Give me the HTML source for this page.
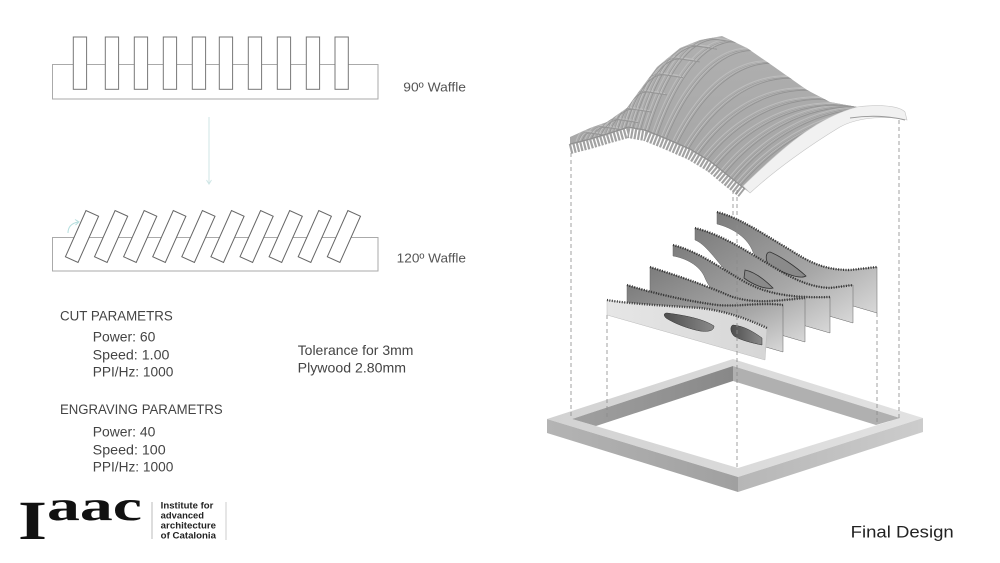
<!DOCTYPE html>
<html><head><meta charset="utf-8"><style>
html,body{margin:0;padding:0;background:#fff;}
svg{display:block;}
text{font-family:"Liberation Sans",sans-serif;}
</style></head><body>
<svg width="1000" height="563" viewBox="0 0 1000 563" xmlns="http://www.w3.org/2000/svg">
<defs>
<linearGradient id="surf" x1="0" y1="0" x2="0" y2="1"><stop offset="0" stop-color="#b0b0b0"/><stop offset="1" stop-color="#a4a4a4"/></linearGradient>
<linearGradient id="pg" x1="0" y1="0" x2="1" y2="1"><stop offset="0" stop-color="#7c7c7c"/><stop offset="0.6" stop-color="#a8a8a8"/><stop offset="1" stop-color="#d8d8d8"/></linearGradient>
<linearGradient id="front" x1="0" y1="0" x2="1" y2="0"><stop offset="0" stop-color="#e6e6e6"/><stop offset="1" stop-color="#d6d6d6"/></linearGradient>
<linearGradient id="hole" x1="0" y1="0" x2="1" y2="0"><stop offset="0" stop-color="#4e4e4e"/><stop offset="1" stop-color="#8a8a8a"/></linearGradient>
<linearGradient id="ftop" x1="0" y1="0" x2="1" y2="0"><stop offset="0" stop-color="#d2d2d2"/><stop offset="1" stop-color="#e2e2e2"/></linearGradient>
<linearGradient id="fl" x1="0" y1="0" x2="1" y2="0"><stop offset="0" stop-color="#b4b4b4"/><stop offset="1" stop-color="#a0a0a0"/></linearGradient>
<linearGradient id="fr" x1="0" y1="0" x2="1" y2="0"><stop offset="0" stop-color="#b6b6b6"/><stop offset="1" stop-color="#cccccc"/></linearGradient>
<linearGradient id="iw" x1="0" y1="0" x2="1" y2="0"><stop offset="0" stop-color="#a0a0a0"/><stop offset="1" stop-color="#888888"/></linearGradient>
<clipPath id="sc"><path d="M570,137 L590,128 L607,122 L627,108 L640,90 L657,67 L680,48 L700,40 L722,36 L747,48 L773,66 L807,90 L830,102 L857,107 L883,110 L905,114 L907,120 C890,116 860,116 840,127 C810,145 775,170 750,193 L730,178 L710,162 L690,150 L665,139 L645,131 L628,128 L610,134 L590,140 L570,145 Z"/></clipPath>
<g id="stripes">
<path d="M579,142.75 C581.1,136.15 584,131.75 587.25,131.75 l20,3"/>
<path d="M588,140.5 C591.6,131.8 596.7,126 602.5,126 l20,3"/>
<path d="M597,137.9 C601.9,126.3 608.7,118.5 616.5,118.5 l20,3"/>
<path d="M606,135.2 C612,118.9 620.4,108 630,108 l20,3"/>
<path d="M614.5,132.5 C622.1,107.5 632.8,90.75 645,90.75 l20,3"/>
<path d="M622.6,129.8 C632.2,96 645.6,73.5 661,73.5 l20,3"/>
<path d="M630.5,128.45 C642.3,86 658.9,57.75 677.75,57.75 l20,3"/>
<path d="M638.2,129.8 C652.4,78.9 672.3,45 695,45 l20,3"/>
<path d="M646,131.4 C662.9,75.5 686.7,38.25 713.75,38.25 l20,3"/>
<path d="M655,135 C674.4,78.3 701.5,40.5 732.5,40.5 l20,6"/>
<path d="M664,138.6 C685.8,85 716.4,49.25 751.25,49.25 l20,8"/>
<path d="M675,143.4 C698.8,94.6 732,62 770,62 l20,8"/>
<path d="M686.25,148.35 C711.9,105.5 747.8,77 788.75,77 l20,8"/>
<path d="M696,153.6 C723.3,114.8 761.4,89 805,89 l20,5"/>
<path d="M705,159 C733.8,122.4 774,98 820,98 l20,4"/>
<path d="M714,165.2 C744.3,128.5 786.6,104 835,104 l20,2"/>
<path d="M723,172.4 C755.7,132.3 801.5,105.5 853.75,105.5 l20,2"/>
<path d="M731.5,179.2 C766.8,135.9 816.1,107 872.5,107 l20,2"/>
<path d="M738.25,184.6 C776.5,139.2 830,109 891.25,109 l20,2"/>
</g>
</defs>

<!-- top-left waffle -->
<rect x="52.5" y="64.5" width="325.5" height="34.5" fill="none" stroke="#aaa" stroke-width="1"/>
<g fill="#fff" stroke="#777" stroke-width="1">
<rect x="73.3" y="37" width="13.3" height="52.3"/>
<rect x="105.3" y="37" width="13.3" height="52.3"/>
<rect x="134.3" y="37" width="13.3" height="52.3"/>
<rect x="163.3" y="37" width="13.3" height="52.3"/>
<rect x="192.3" y="37" width="13.3" height="52.3"/>
<rect x="219.3" y="37" width="13.3" height="52.3"/>
<rect x="248.3" y="37" width="13.3" height="52.3"/>
<rect x="277.3" y="37" width="13.3" height="52.3"/>
<rect x="306.3" y="37" width="13.3" height="52.3"/>
<rect x="335" y="37" width="13.3" height="52.3"/>
</g>
<text x="403.3" y="91.7" font-size="12.5" fill="#555" textLength="62.7" lengthAdjust="spacingAndGlyphs">90º Waffle</text>

<!-- arrow -->
<line x1="209" y1="117" x2="209" y2="183" stroke="#cfe6e6" stroke-width="1"/>
<path d="M206.5,180 L209,184 L211.5,180" fill="none" stroke="#cfe6e6" stroke-width="1"/>

<!-- 120 waffle -->
<rect x="52.5" y="237.5" width="325.5" height="33.5" fill="none" stroke="#aaa" stroke-width="1"/>
<g fill="#fff" stroke="#666" stroke-width="1">
<rect x="-6.9" y="-25.3" width="13.8" height="50.6" transform="translate(82,236.5) rotate(24)"/>
<rect x="-6.9" y="-25.3" width="13.8" height="50.6" transform="translate(111.1,236.5) rotate(24)"/>
<rect x="-6.9" y="-25.3" width="13.8" height="50.6" transform="translate(140.2,236.5) rotate(24)"/>
<rect x="-6.9" y="-25.3" width="13.8" height="50.6" transform="translate(169.3,236.5) rotate(24)"/>
<rect x="-6.9" y="-25.3" width="13.8" height="50.6" transform="translate(198.4,236.5) rotate(24)"/>
<rect x="-6.9" y="-25.3" width="13.8" height="50.6" transform="translate(227.5,236.5) rotate(24)"/>
<rect x="-6.9" y="-25.3" width="13.8" height="50.6" transform="translate(256.6,236.5) rotate(24)"/>
<rect x="-6.9" y="-25.3" width="13.8" height="50.6" transform="translate(285.7,236.5) rotate(24)"/>
<rect x="-6.9" y="-25.3" width="13.8" height="50.6" transform="translate(314.8,236.5) rotate(24)"/>
<rect x="-6.9" y="-25.3" width="13.8" height="50.6" transform="translate(343.9,236.5) rotate(24)"/>
</g>
<path d="M68,233 Q68,224 78,222" fill="none" stroke="#b5dede" stroke-width="1"/>
<path d="M75,219.5 L79,222 L75.5,225" fill="none" stroke="#b5dede" stroke-width="1"/>
<text x="396.7" y="262.7" font-size="12.5" fill="#555" textLength="69.3" lengthAdjust="spacingAndGlyphs">120º Waffle</text>

<!-- parameters -->
<g fill="#444">
<text x="60" y="320.7" font-size="13.5" textLength="112.7" lengthAdjust="spacingAndGlyphs">CUT PARAMETRS</text>
<text x="92.7" y="341.7" font-size="14" textLength="62.7" lengthAdjust="spacingAndGlyphs">Power: 60</text>
<text x="92.7" y="359.3" font-size="14" textLength="76.7" lengthAdjust="spacingAndGlyphs">Speed: 1.00</text>
<text x="92.7" y="376.7" font-size="14" textLength="80.7" lengthAdjust="spacingAndGlyphs">PPI/Hz: 1000</text>
<text x="60" y="414" font-size="13.5" textLength="162.7" lengthAdjust="spacingAndGlyphs">ENGRAVING PARAMETRS</text>
<text x="92.7" y="436.7" font-size="14" textLength="62.7" lengthAdjust="spacingAndGlyphs">Power: 40</text>
<text x="92.7" y="454.3" font-size="14" textLength="73" lengthAdjust="spacingAndGlyphs">Speed: 100</text>
<text x="92.7" y="471.7" font-size="14" textLength="80.7" lengthAdjust="spacingAndGlyphs">PPI/Hz: 1000</text>
<text x="297.7" y="355" font-size="14" textLength="115.7" lengthAdjust="spacingAndGlyphs">Tolerance for 3mm</text>
<text x="297.7" y="372.7" font-size="14" textLength="108.3" lengthAdjust="spacingAndGlyphs">Plywood 2.80mm</text>
</g>

<!-- logo -->
<text x="18" y="539" font-weight="bold" font-size="55" fill="#111" textLength="29" lengthAdjust="spacingAndGlyphs" style="font-family:'Liberation Serif',serif">I</text>
<text x="47" y="520" font-weight="bold" font-size="42" fill="#111" textLength="95" lengthAdjust="spacingAndGlyphs" style="font-family:'Liberation Serif',serif">aac</text>
<line x1="152" y1="502" x2="152" y2="539" stroke="#bbb" stroke-width="1"/>
<line x1="226" y1="502" x2="226" y2="540" stroke="#ccc" stroke-width="1"/>
<g fill="#222" font-weight="bold" font-size="9.3">
<text x="160.7" y="508.5" textLength="52.7" lengthAdjust="spacingAndGlyphs">Institute for</text>
<text x="160.7" y="518.5" textLength="43.3" lengthAdjust="spacingAndGlyphs">advanced</text>
<text x="160.7" y="528.5" textLength="55.3" lengthAdjust="spacingAndGlyphs">architecture</text>
<text x="160.7" y="538.5" textLength="55.3" lengthAdjust="spacingAndGlyphs">of Catalonia</text>
</g>

<text x="850.7" y="537.3" font-size="17" fill="#222" textLength="103" lengthAdjust="spacingAndGlyphs">Final Design</text>

<!-- frame -->
<path d="M547,419 L733,359 L923,418 L738,477 Z M572,419 L738,468 L900,418 L733,366 Z" fill="url(#ftop)" fill-rule="evenodd"/>
<path d="M572,419 L733,366 L733,381 L596,426 Z" fill="url(#iw)"/>
<path d="M733,366 L900,418 L876,425 L733,381 Z" fill="#b0b0b0"/>
<path d="M547,419 L738,477 L738,492 L547,433 Z" fill="url(#fl)"/>
<path d="M738,477 L923,418 L923,432 L738,492 Z" fill="url(#fr)"/>

<!-- dashed guides (behind) -->
<g stroke="#8a8a8a" stroke-width="0.8" stroke-dasharray="4 3" fill="none">
<line x1="571" y1="146" x2="571" y2="418"/>
<line x1="607" y1="315" x2="607" y2="419"/>
<line x1="733" y1="190" x2="733" y2="232"/>
<line x1="899" y1="120" x2="899" y2="418"/>
<line x1="877" y1="313" x2="877" y2="424"/>
</g>

<!-- panels back to front -->
<g stroke="#666" stroke-width="0.5">
<path d="M717,212 C740,218 760,232 787,248 C805,259 820,270 850,270 L877,267 L877,313 L805,292 C780,286 760,270 753,252 C748,238 733,228 717,224 Z" fill="url(#pg)"/>
<path d="M770,252 C780,256 795,266 806,276 C800,280 780,272 768,264 C765,258 766,252 770,252 Z" fill="#8a8a8a" stroke="#333" stroke-width="0.8"/>
<path d="M695,228 C720,234 745,250 765,262 C785,274 805,287 830,288 L853,285 L853,323 L760,296 C740,290 725,270 715,258 C705,246 700,242 695,240 Z" fill="url(#pg)"/>
<path d="M745,270 C755,272 765,280 773,288 C765,290 752,284 744,278 Z" fill="#8a8a8a" stroke="#333" stroke-width="0.8"/>
<path d="M673,245 C700,252 720,268 745,282 C770,296 800,298 830,297 L830,333 L740,307 C720,300 710,290 705,278 C700,265 685,258 673,256 Z" fill="url(#pg)"/>
<path d="M650,267 C675,275 700,283 730,296 C755,305 780,300 805,298 L805,342 L650,297 Z" fill="url(#pg)"/>
<path d="M627,285 C650,292 680,300 717,305 C740,307 760,302 783,305 L783,352 L627,307 Z" fill="url(#pg)"/>
<path d="M607,300 C630,304 670,306 700,308 C725,311 745,318 767,328 L765,360 L607,315 Z" fill="url(#front)" stroke="#bbb"/>
<path d="M667,313 C690,316 705,320 714,326 C714,331 708,332 700,331 C685,328 672,322 666,318 C663,315 664,313 667,313 Z" fill="url(#hole)" stroke="#333"/>
<path d="M733,325 C745,326 755,333 762,338 L762,345 C752,343 740,340 734,336 C730,332 730,326 733,325 Z" fill="url(#hole)" stroke="#333"/>
</g>
<g fill="none" stroke="#333" stroke-width="2.4" stroke-dasharray="1 1.5">
<path d="M717,212 C740,218 760,232 787,248 C805,259 820,270 850,270 L877,267"/>
<path d="M695,228 C720,234 745,250 765,262 C785,274 805,287 830,288 L853,285"/>
<path d="M673,245 C700,252 720,268 745,282 C770,296 800,298 830,297"/>
<path d="M650,267 C675,275 700,283 730,296 C755,305 780,300 805,298"/>
<path d="M627,285 C650,292 680,300 717,305 C740,307 760,302 783,305"/>
<path d="M607,300 C630,304 670,306 700,308 C725,311 745,318 767,328"/>
</g>

<!-- top surface -->
<path d="M570,137 L590,128 L607,122 L627,108 L640,90 L657,67 L680,48 L700,40 L722,36 L747,48 L773,66 L807,90 L830,102 L857,107 L883,110 L905,114 L907,120 C890,116 860,116 840,127 C810,145 775,170 750,193 L730,178 L710,162 L690,150 L665,139 L645,131 L628,128 L610,134 L590,140 L570,145 Z" fill="url(#surf)"/>
<g clip-path="url(#sc)" fill="none">
<use href="#stripes" stroke="#c2c2c2" stroke-width="1.3"/>
<use href="#stripes" stroke="#bdbdbd" stroke-width="1" transform="translate(-3,-1.2)"/>
<use href="#stripes" stroke="#929292" stroke-width="0.8" transform="translate(2,1.2)"/>
<use href="#stripes" stroke="#999999" stroke-width="0.7" transform="translate(-1,0.4)"/>
</g>
<!-- fin teeth along front edge -->
<path d="M570,149 L590,144 L610,138 L628,133 L645,136 L665,144 L690,155 L710,167 L728,182 L742,193" fill="none" stroke="#a2a2a2" stroke-width="10" stroke-dasharray="2.2 1.3"/>
<path d="M570,144 L590,139 L610,133 L628,127 L645,130 L665,138 L690,149 L710,161 L730,177 L745,189" fill="none" stroke="#8e8e8e" stroke-width="1"/>
<!-- end band -->
<path d="M743,186 C780,150 815,118 857,107 C880,104 900,106 905,112 L907,120 C890,116 860,116 840,127 C810,145 775,170 750,193 Z" fill="#f1f1f1" stroke="#c6c6c6" stroke-width="0.6"/>
<path d="M850,118 C870,115 890,116 905,120" fill="none" stroke="#9a9a9a" stroke-width="1"/>

<!-- dashed guides (front) -->
<g stroke="#8a8a8a" stroke-width="0.8" stroke-dasharray="4 3" fill="none">
<line x1="737" y1="190" x2="737" y2="468"/>
</g>
</svg>
</body></html>
